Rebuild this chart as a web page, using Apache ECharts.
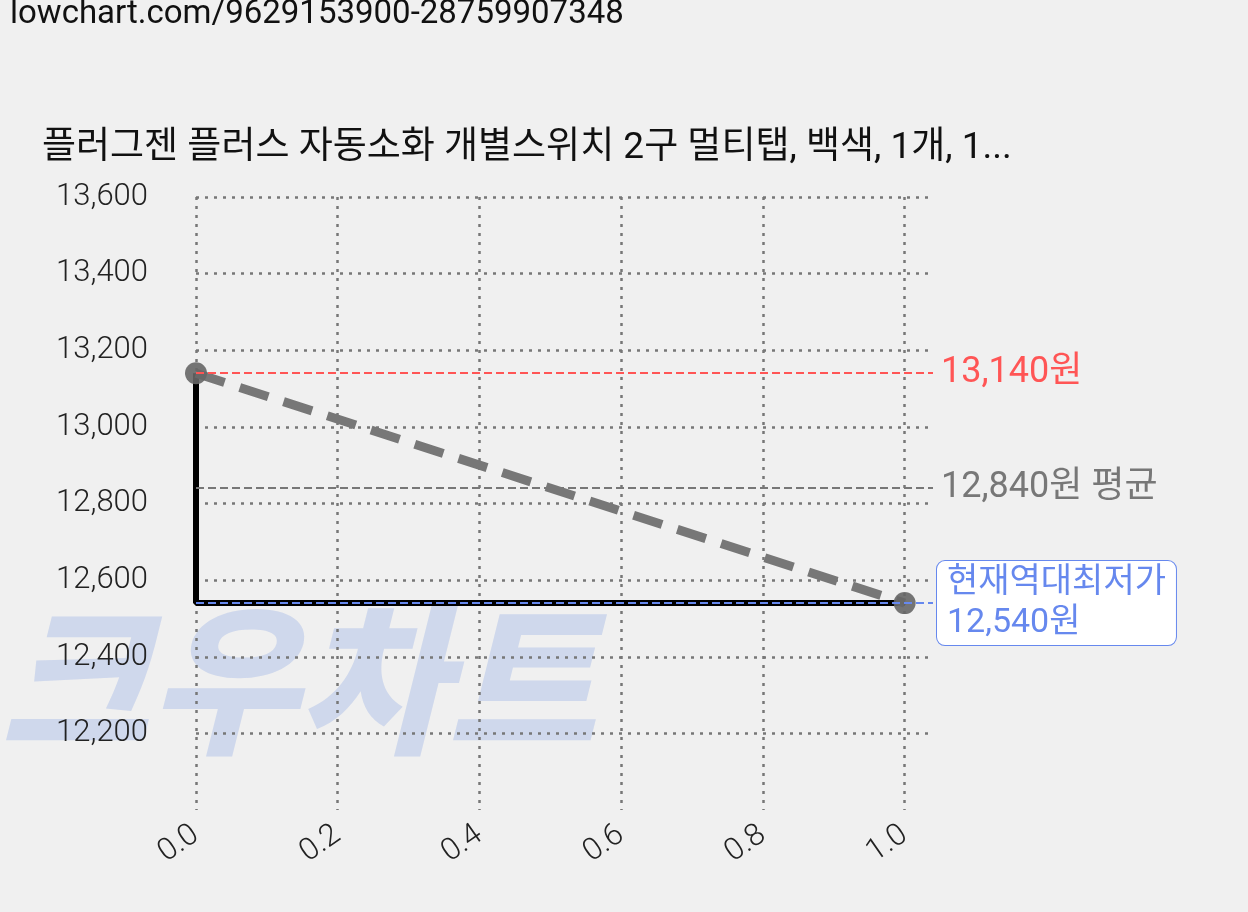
<!DOCTYPE html><html><head><meta charset="utf-8"><script src="https://cdn.jsdelivr.net/npm/echarts@6/dist/echarts.min.js"></script>
<style>body{margin:0;background:#f0f0f0}#c{width:1248px;height:912px}</style></head><body><div id="c"></div><script>
const title='플러그젠 플러스 자동소화 개별스위치 2구 멀티탭, 백색, 1개, 1...';
const stepLine=[[0,13140],[0,12540],[1,12540]];
const trendLine=[[0,13140],[1,12540]];
const maxPrice=13140, avgPrice=12840, minPrice=12540;
const ch=echarts.init(document.getElementById('c'));
const F='Roboto, "Noto Sans CJK KR", sans-serif';
ch.setOption({
 backgroundColor:'#f0f0f0',animation:false,
 graphic:[
  {type:'text',left:10,top:-2,style:{text:'lowchart.com/9629153900-28759907348',font:'33px '+F,fill:'#111'}},
  {type:'text',left:42,top:130,style:{text:title,font:'37px '+F,fill:'#111'}},
  {type:'text',left:0,top:598,z:-10,style:{text:'크우차트',font:'italic 900 162px "Noto Sans CJK KR"',fill:'rgba(120,150,225,0.27)'}}
 ],
 grid:{left:196,right:315,top:197,bottom:102},
 xAxis:{type:'value',min:0,max:1.04,interval:0.2,axisLine:{show:false},axisTick:{show:false},
  axisLabel:{rotate:35,fontSize:31,fontWeight:300,color:'#222',fontFamily:F,margin:22,showMaxLabel:false,formatter:v=>v.toFixed(1)},
  splitLine:{show:true,showMaxLine:false,lineStyle:{type:[3,6],color:'#777',width:2.5}}},
 yAxis:{type:'value',min:12000,max:13600,interval:200,axisLine:{show:false},axisTick:{show:false},
  axisLabel:{fontSize:31,fontWeight:300,color:'#222',fontFamily:F,margin:48,showMinLabel:false,formatter:v=>v.toLocaleString('en-US')},
  splitLine:{show:true,showMinLine:false,lineStyle:{type:[3,6],color:'#777',width:2.5}}},
 series:[
  {type:'line',data:stepLine,symbol:'none',lineStyle:{color:'#000',width:6},z:3},
  {type:'line',data:trendLine,symbol:'circle',symbolSize:22,itemStyle:{color:'#666',opacity:0.9},lineStyle:{color:'#777',width:9,type:[30,16]},z:4,
   markLine:{symbol:['none','none'],silent:true,data:[
    {yAxis:maxPrice,lineStyle:{color:'#ff5555',type:'dashed',width:2},label:{formatter:'13,140원',color:'#ff5555',fontSize:36,fontFamily:F,distance:8}},
    {yAxis:avgPrice,lineStyle:{color:'#777',type:'dashed',width:2},label:{formatter:'12,840원 평균',color:'#777',fontSize:36,fontFamily:F,distance:8}},
    {yAxis:minPrice,lineStyle:{color:'#6688ee',type:'dashed',width:2},
     label:{formatter:'현재역대최저가\n12,540원',color:'#6688ee',fontSize:34,fontFamily:F,lineHeight:40,align:'left',distance:4,backgroundColor:'#fff',borderColor:'#6688ee',borderWidth:1,borderRadius:8,padding:[2,10,2,10]}}
   ]}}
 ]
});
</script></body></html>
